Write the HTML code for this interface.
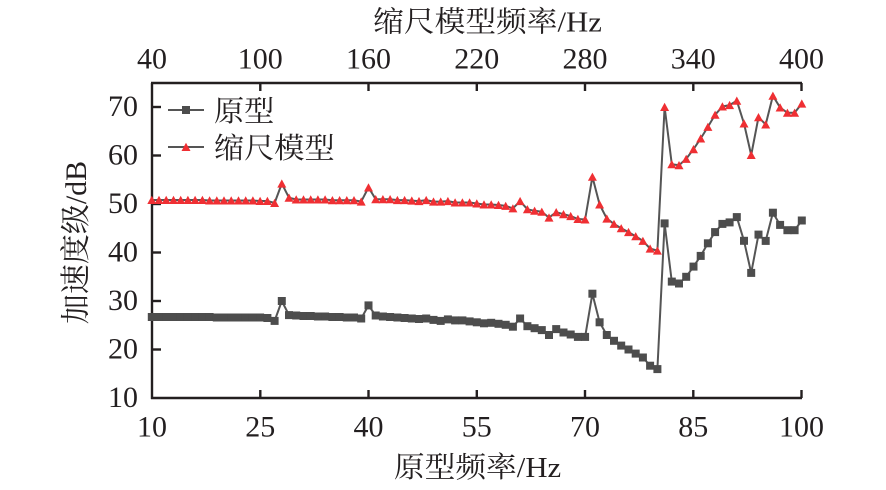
<!DOCTYPE html>
<html><head><meta charset="utf-8"><style>
html,body{margin:0;padding:0;background:#fff;}
svg{display:block;}
.t{font-family:"Liberation Serif","Noto Serif CJK SC",serif;fill:#231f20;}
</style></head><body>
<svg width="886" height="490" viewBox="0 0 886 490" xmlns="http://www.w3.org/2000/svg">
<defs>
<marker id="sq" markerUnits="userSpaceOnUse" markerWidth="10" markerHeight="10" refX="5" refY="5" overflow="visible"><rect x="1" y="1" width="8" height="8" fill="#4d4d4d"/></marker>
<marker id="tri" markerUnits="userSpaceOnUse" markerWidth="10" markerHeight="10" refX="5" refY="5" overflow="visible"><polygon points="0.5,9 5,0.8 9.5,9" fill="#ef2f33"/></marker>
</defs>
<rect width="886" height="490" fill="#fff"/>

<!-- axes -->
<g stroke="#231f20" stroke-width="2.4" fill="none">
<line x1="152" y1="83" x2="152" y2="399"/>
<line x1="151" y1="398" x2="802" y2="398"/>
<line x1="151" y1="83" x2="802" y2="83"/>
<!-- bottom ticks -->
<line x1="260.3" y1="398" x2="260.3" y2="390"/>
<line x1="368.5" y1="398" x2="368.5" y2="390"/>
<line x1="476.8" y1="398" x2="476.8" y2="390"/>
<line x1="585" y1="398" x2="585" y2="390"/>
<line x1="693.3" y1="398" x2="693.3" y2="390"/>
<line x1="801.5" y1="398" x2="801.5" y2="390"/>
<!-- top ticks -->
<line x1="260.3" y1="83" x2="260.3" y2="91"/>
<line x1="368.5" y1="83" x2="368.5" y2="91"/>
<line x1="476.8" y1="83" x2="476.8" y2="91"/>
<line x1="585" y1="83" x2="585" y2="91"/>
<line x1="693.3" y1="83" x2="693.3" y2="91"/>
<line x1="801.5" y1="83" x2="801.5" y2="91"/>
<!-- left ticks -->
<line x1="152" y1="349.5" x2="161" y2="349.5"/>
<line x1="152" y1="301" x2="161" y2="301"/>
<line x1="152" y1="252.5" x2="161" y2="252.5"/>
<line x1="152" y1="204" x2="161" y2="204"/>
<line x1="152" y1="155.5" x2="161" y2="155.5"/>
<line x1="152" y1="107" x2="161" y2="107"/>
</g>

<!-- tick labels -->
<g class="t" font-size="30" text-anchor="middle">
<text x="152" y="436.5">10</text>
<text x="260.3" y="436.5">25</text>
<text x="368.5" y="436.5">40</text>
<text x="476.8" y="436.5">55</text>
<text x="585" y="436.5">70</text>
<text x="693.3" y="436.5">85</text>
<text x="801.5" y="436.5">100</text>
<text x="152" y="68.5">40</text>
<text x="260.3" y="68.5">100</text>
<text x="368.5" y="68.5">160</text>
<text x="476.8" y="68.5">220</text>
<text x="585" y="68.5">280</text>
<text x="693.3" y="68.5">340</text>
<text x="801.5" y="68.5">400</text>
</g>
<g class="t" font-size="30" text-anchor="end">
<text x="138" y="407">10</text>
<text x="138" y="358.5">20</text>
<text x="138" y="310">30</text>
<text x="138" y="261.5">40</text>
<text x="138" y="213">50</text>
<text x="138" y="164.5">60</text>
<text x="138" y="116">70</text>
</g>

<!-- axis titles -->
<text class="t" font-size="29" text-anchor="middle" transform="translate(487.5,31.5) scale(1.06,1)">缩尺模型频率/Hz</text>
<text class="t" font-size="29" text-anchor="middle" transform="translate(477.5,477) scale(1.06,1)">原型频率/Hz</text>
<text class="t" font-size="30" text-anchor="middle" transform="translate(86,242.5) rotate(-90)">加速度级/dB</text>

<!-- legend -->
<line x1="168" y1="110" x2="204" y2="110" stroke="#555" stroke-width="2"/>
<rect x="182" y="106" width="8" height="8" fill="#4d4d4d"/>
<line x1="168" y1="147" x2="204" y2="147" stroke="#555" stroke-width="2"/>
<polygon points="181.5,151 186,142.8 190.5,151" fill="#ef2f33"/>
<text class="t" font-size="29" transform="translate(214,121) scale(1.04,1)">原型</text>
<text class="t" font-size="29" transform="translate(214,158) scale(1.04,1)">缩尺模型</text>

<g transform="translate(0.8,0)">
<polyline fill="none" stroke="#555" stroke-width="2" stroke-linejoin="round" marker-start="url(#sq)" marker-mid="url(#sq)" marker-end="url(#sq)" points="151.0,317.0 158.2,317.0 165.4,317.0 172.7,317.0 179.9,317.0 187.1,317.0 194.3,317.0 201.6,317.0 208.8,317.0 216.0,317.5 223.2,317.5 230.4,317.5 237.7,317.5 244.9,317.5 252.1,317.5 259.3,317.5 266.6,318.0 273.8,320.9 281.0,301.0 288.2,315.1 295.4,315.5 302.7,316.0 309.9,316.0 317.1,316.5 324.3,316.5 331.6,317.0 338.8,317.0 346.0,317.5 353.2,317.5 360.4,318.5 367.7,305.4 374.9,315.5 382.1,316.5 389.3,317.0 396.6,317.5 403.8,318.0 411.0,318.5 418.2,319.0 425.4,318.5 432.7,319.9 439.9,320.9 447.1,319.4 454.3,320.4 461.6,320.4 468.8,321.4 476.0,322.3 483.2,323.3 490.4,322.8 497.7,323.8 504.9,324.8 512.1,326.7 519.3,318.5 526.6,326.2 533.8,328.2 541.0,330.1 548.2,335.0 555.4,329.1 562.7,332.5 569.9,334.5 577.1,336.9 584.3,336.9 591.6,293.7 598.8,322.3 606.0,335.0 613.2,340.8 620.4,345.6 627.7,349.5 634.9,353.6 642.1,357.5 649.3,365.7 656.6,369.1 663.8,223.4 671.0,281.6 678.2,283.5 685.4,276.8 692.7,266.6 699.9,255.9 707.1,243.3 714.3,232.1 721.6,223.9 728.8,222.4 736.0,217.1 743.2,240.8 750.4,272.9 757.7,234.6 764.9,240.9 772.1,212.7 779.3,224.9 786.6,230.2 793.8,230.2 801.0,220.5"/>
<polyline fill="none" stroke="#555" stroke-width="2" stroke-linejoin="round" marker-start="url(#tri)" marker-mid="url(#tri)" marker-end="url(#tri)" points="151.0,200.0 158.2,200.0 165.4,200.0 172.7,200.0 179.9,200.0 187.1,200.0 194.3,200.0 201.6,200.0 208.8,200.5 216.0,200.5 223.2,200.5 230.4,200.5 237.7,200.5 244.9,200.5 252.1,200.5 259.3,201.0 266.6,201.0 273.8,203.0 281.0,183.6 288.2,197.7 295.4,199.5 302.7,199.5 309.9,199.5 317.1,199.5 324.3,199.5 331.6,200.2 338.8,200.2 346.0,200.2 353.2,200.2 360.4,201.6 367.7,187.5 374.9,199.2 382.1,199.2 389.3,199.2 396.6,200.1 403.8,200.1 411.0,200.6 418.2,201.1 425.4,200.1 432.7,201.6 439.9,201.6 447.1,201.1 454.3,202.5 461.6,202.5 468.8,202.5 476.0,203.5 483.2,204.5 490.4,204.5 497.7,205.0 504.9,205.9 512.1,208.4 519.3,201.1 526.6,209.3 533.8,210.8 541.0,211.8 548.2,217.6 555.4,212.2 562.7,214.2 569.9,216.1 577.1,219.0 584.3,219.5 591.6,176.8 598.8,204.5 606.0,218.6 613.2,223.9 620.4,228.3 627.7,232.1 634.9,236.3 642.1,240.9 649.3,248.6 656.6,250.6 663.8,107.0 671.0,164.2 678.2,165.2 685.4,158.9 692.7,149.2 699.9,138.5 707.1,126.9 714.3,114.8 721.6,106.5 728.8,105.1 736.0,100.7 743.2,123.5 750.4,155.0 757.7,117.2 764.9,124.5 772.1,95.8 779.3,107.5 786.6,112.8 793.8,112.8 801.0,103.6"/>
</g>
</svg>
</body></html>
